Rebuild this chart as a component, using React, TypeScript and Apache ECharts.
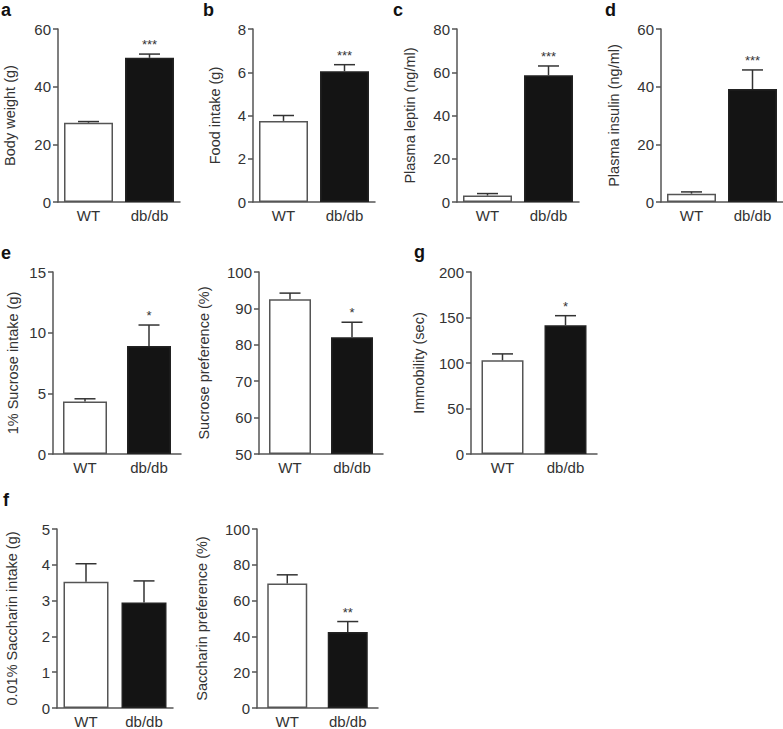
import React, { useEffect, useRef } from 'react';
import * as echarts from 'echarts';

const categories = ['WT', 'db/db'];

const bodyWeight = [27.5, 50.0];
const bodyWeightErr = [0.4, 1.3];
const bodyWeightSig = ['', '***'];

const foodIntake = [3.75, 6.05];
const foodIntakeErr = [0.25, 0.3];
const foodIntakeSig = ['', '***'];

const plasmaLeptin = [3.0, 58.6];
const plasmaLeptinErr = [0.9, 4.3];
const plasmaLeptinSig = ['', '***'];

const plasmaInsulin = [2.9, 39.2];
const plasmaInsulinErr = [0.6, 6.6];
const plasmaInsulinSig = ['', '***'];

const sucroseIntake = [4.33, 8.9];
const sucroseIntakeErr = [0.22, 1.73];
const sucroseIntakeSig = ['', '*'];

const sucrosePref = [92.5, 82.1];
const sucrosePrefErr = [1.7, 4.1];
const sucrosePrefSig = ['', '*'];

const immobility = [103, 141.4];
const immobilityErr = [7, 10.6];
const immobilitySig = ['', '*'];

const saccharinIntake = [3.53, 2.95];
const saccharinIntakeErr = [0.5, 0.6];
const saccharinIntakeSig = ['', ''];

const saccharinPref = [69.6, 42.4];
const saccharinPrefErr = [4.8, 5.9];
const saccharinPrefSig = ['', '**'];

const FONT = '"Liberation Sans", Arial, Helvetica, sans-serif';

const panels = [
  { letter: 'a', lx: 1, ly: 15, name: 'Body weight (g)', values: bodyWeight, errors: bodyWeightErr, sig: bodyWeightSig, min: 0, max: 60, interval: 20, left: 58, top: 29, width: 122, height: 173, barWidth: 49, nameGap: 41 },
  { letter: 'b', lx: 203, ly: 15, name: 'Food intake (g)', values: foodIntake, errors: foodIntakeErr, sig: foodIntakeSig, min: 0, max: 8, interval: 2, left: 253, top: 29, width: 122, height: 173, barWidth: 49, nameGap: 31 },
  { letter: 'c', lx: 393, ly: 15, name: 'Plasma leptin (ng/ml)', values: plasmaLeptin, errors: plasmaLeptinErr, sig: plasmaLeptinSig, min: 0, max: 80, interval: 20, left: 457, top: 29, width: 122, height: 173, barWidth: 49, nameGap: 40 },
  { letter: 'd', lx: 605, ly: 15, name: 'Plasma insulin (ng/ml)', values: plasmaInsulin, errors: plasmaInsulinErr, sig: plasmaInsulinSig, min: 0, max: 60, interval: 20, left: 661, top: 29, width: 122, height: 173, barWidth: 49, nameGap: 40 },
  { letter: 'e', lx: 1, ly: 258, name: '1% Sucrose intake (g)', values: sucroseIntake, errors: sucroseIntakeErr, sig: sucroseIntakeSig, min: 0, max: 15, interval: 5, left: 53, top: 272, width: 128, height: 182, barWidth: 44, nameGap: 33 },
  { letter: '', lx: 0, ly: 0, name: 'Sucrose preference (%)', values: sucrosePref, errors: sucrosePrefErr, sig: sucrosePrefSig, min: 50, max: 100, interval: 10, left: 259, top: 272, width: 124, height: 182, barWidth: 42, nameGap: 48 },
  { letter: 'g', lx: 414, ly: 257, name: 'Immobility (sec)', values: immobility, errors: immobilityErr, sig: immobilitySig, min: 0, max: 200, interval: 50, left: 471, top: 272, width: 126, height: 182, barWidth: 42, nameGap: 45 },
  { letter: 'f', lx: 3, ly: 505, name: '0.01% Saccharin intake (g)', values: saccharinIntake, errors: saccharinIntakeErr, sig: saccharinIntakeSig, min: 0, max: 5, interval: 1, left: 57, top: 529, width: 116, height: 181, barWidth: 45, nameGap: 38 },
  { letter: '', lx: 0, ly: 0, name: 'Saccharin preference (%)', values: saccharinPref, errors: saccharinPrefErr, sig: saccharinPrefSig, min: 0, max: 100, interval: 20, left: 257, top: 529, width: 121, height: 181, barWidth: 40, nameGap: 48 },
];

function buildOption() {
  const grid: any[] = [];
  const xAxis: any[] = [];
  const yAxis: any[] = [];
  const series: any[] = [];
  const graphic: any[] = [];
  const axisColor = '#555';
  const textColor = '#333';

  panels.forEach((p, i) => {
    grid.push({ left: p.left, top: p.top, width: p.width, height: p.height, containLabel: false });
    xAxis.push({
      type: 'category',
      gridIndex: i,
      data: categories,
      axisTick: { show: false },
      axisLine: { onZero: false, lineStyle: { color: axisColor, width: 1.5 } },
      axisLabel: { color: textColor, fontSize: 15, fontFamily: FONT, margin: 6 },
    });
    yAxis.push({
      type: 'value',
      gridIndex: i,
      min: p.min,
      max: p.max,
      interval: p.interval,
      startValue: p.min,
      splitLine: { show: false },
      axisLine: { show: true, lineStyle: { color: axisColor, width: 1.5 } },
      axisTick: { show: true, length: 5, lineStyle: { color: axisColor, width: 1.5 } },
      axisLabel: { color: textColor, fontSize: 15, fontFamily: FONT, margin: 7 },
      name: p.name,
      nameLocation: 'middle',
      nameGap: p.nameGap,
      nameTextStyle: { color: textColor, fontSize: 14.5, fontFamily: FONT },
    });
    series.push({
      type: 'bar',
      xAxisIndex: i,
      yAxisIndex: i,
      barWidth: p.barWidth,
      clip: true,
      silent: true,
      data: p.values.map((v, j) => ({
        value: v,
        itemStyle:
          j === 0
            ? { color: '#ffffff', borderColor: '#555', borderWidth: 1.5 }
            : { color: '#141414', borderColor: '#222', borderWidth: 1.5 },
      })),
    });
    const sig = p.sig;
    series.push({
      type: 'custom',
      xAxisIndex: i,
      yAxisIndex: i,
      silent: true,
      z: 5,
      data: p.values.map((v, j) => [j, v, p.errors[j]]),
      renderItem: (params: any, api: any) => {
        const j = params.dataIndex;
        const c = api.value(0);
        const v = api.value(1);
        const e = api.value(2);
        const p0 = api.coord([c, v]);
        const p1 = api.coord([c, v + e]);
        const st = { stroke: '#333', lineWidth: 1.5 };
        const half = 10.5;
        const children: any[] = [
          { type: 'line', shape: { x1: p0[0], y1: p0[1], x2: p1[0], y2: p1[1] }, style: st },
          { type: 'line', shape: { x1: p1[0] - half, y1: p1[1], x2: p1[0] + half, y2: p1[1] }, style: st },
        ];
        if (sig[j]) {
          children.push({
            type: 'text',
            style: {
              text: sig[j],
              x: p1[0],
              y: p1[1] - 3,
              align: 'center',
              verticalAlign: 'bottom',
              fontSize: 13,
              fontFamily: FONT,
              fill: '#333',
            },
          });
        }
        return { type: 'group', children };
      },
    });
    if (p.letter) {
      graphic.push({
        type: 'text',
        left: p.lx,
        top: p.ly - 14,
        style: { text: p.letter, fontSize: 18, fontWeight: 'bold', fontFamily: FONT, fill: '#111' },
      });
    }
  });

  return { animation: false, backgroundColor: '#ffffff', grid, xAxis, yAxis, series, graphic };
}

export default function App() {
  const ref = useRef<HTMLDivElement>(null);
  useEffect(() => {
    if (!ref.current) return;
    const chart = echarts.init(ref.current, undefined, { renderer: 'svg' });
    chart.setOption(buildOption() as any);
    return () => chart.dispose();
  }, []);
  return (
    <div
      ref={ref}
      style={{ position: 'fixed', left: 0, top: 0, width: 783, height: 729, background: '#fff' }}
    />
  );
}
